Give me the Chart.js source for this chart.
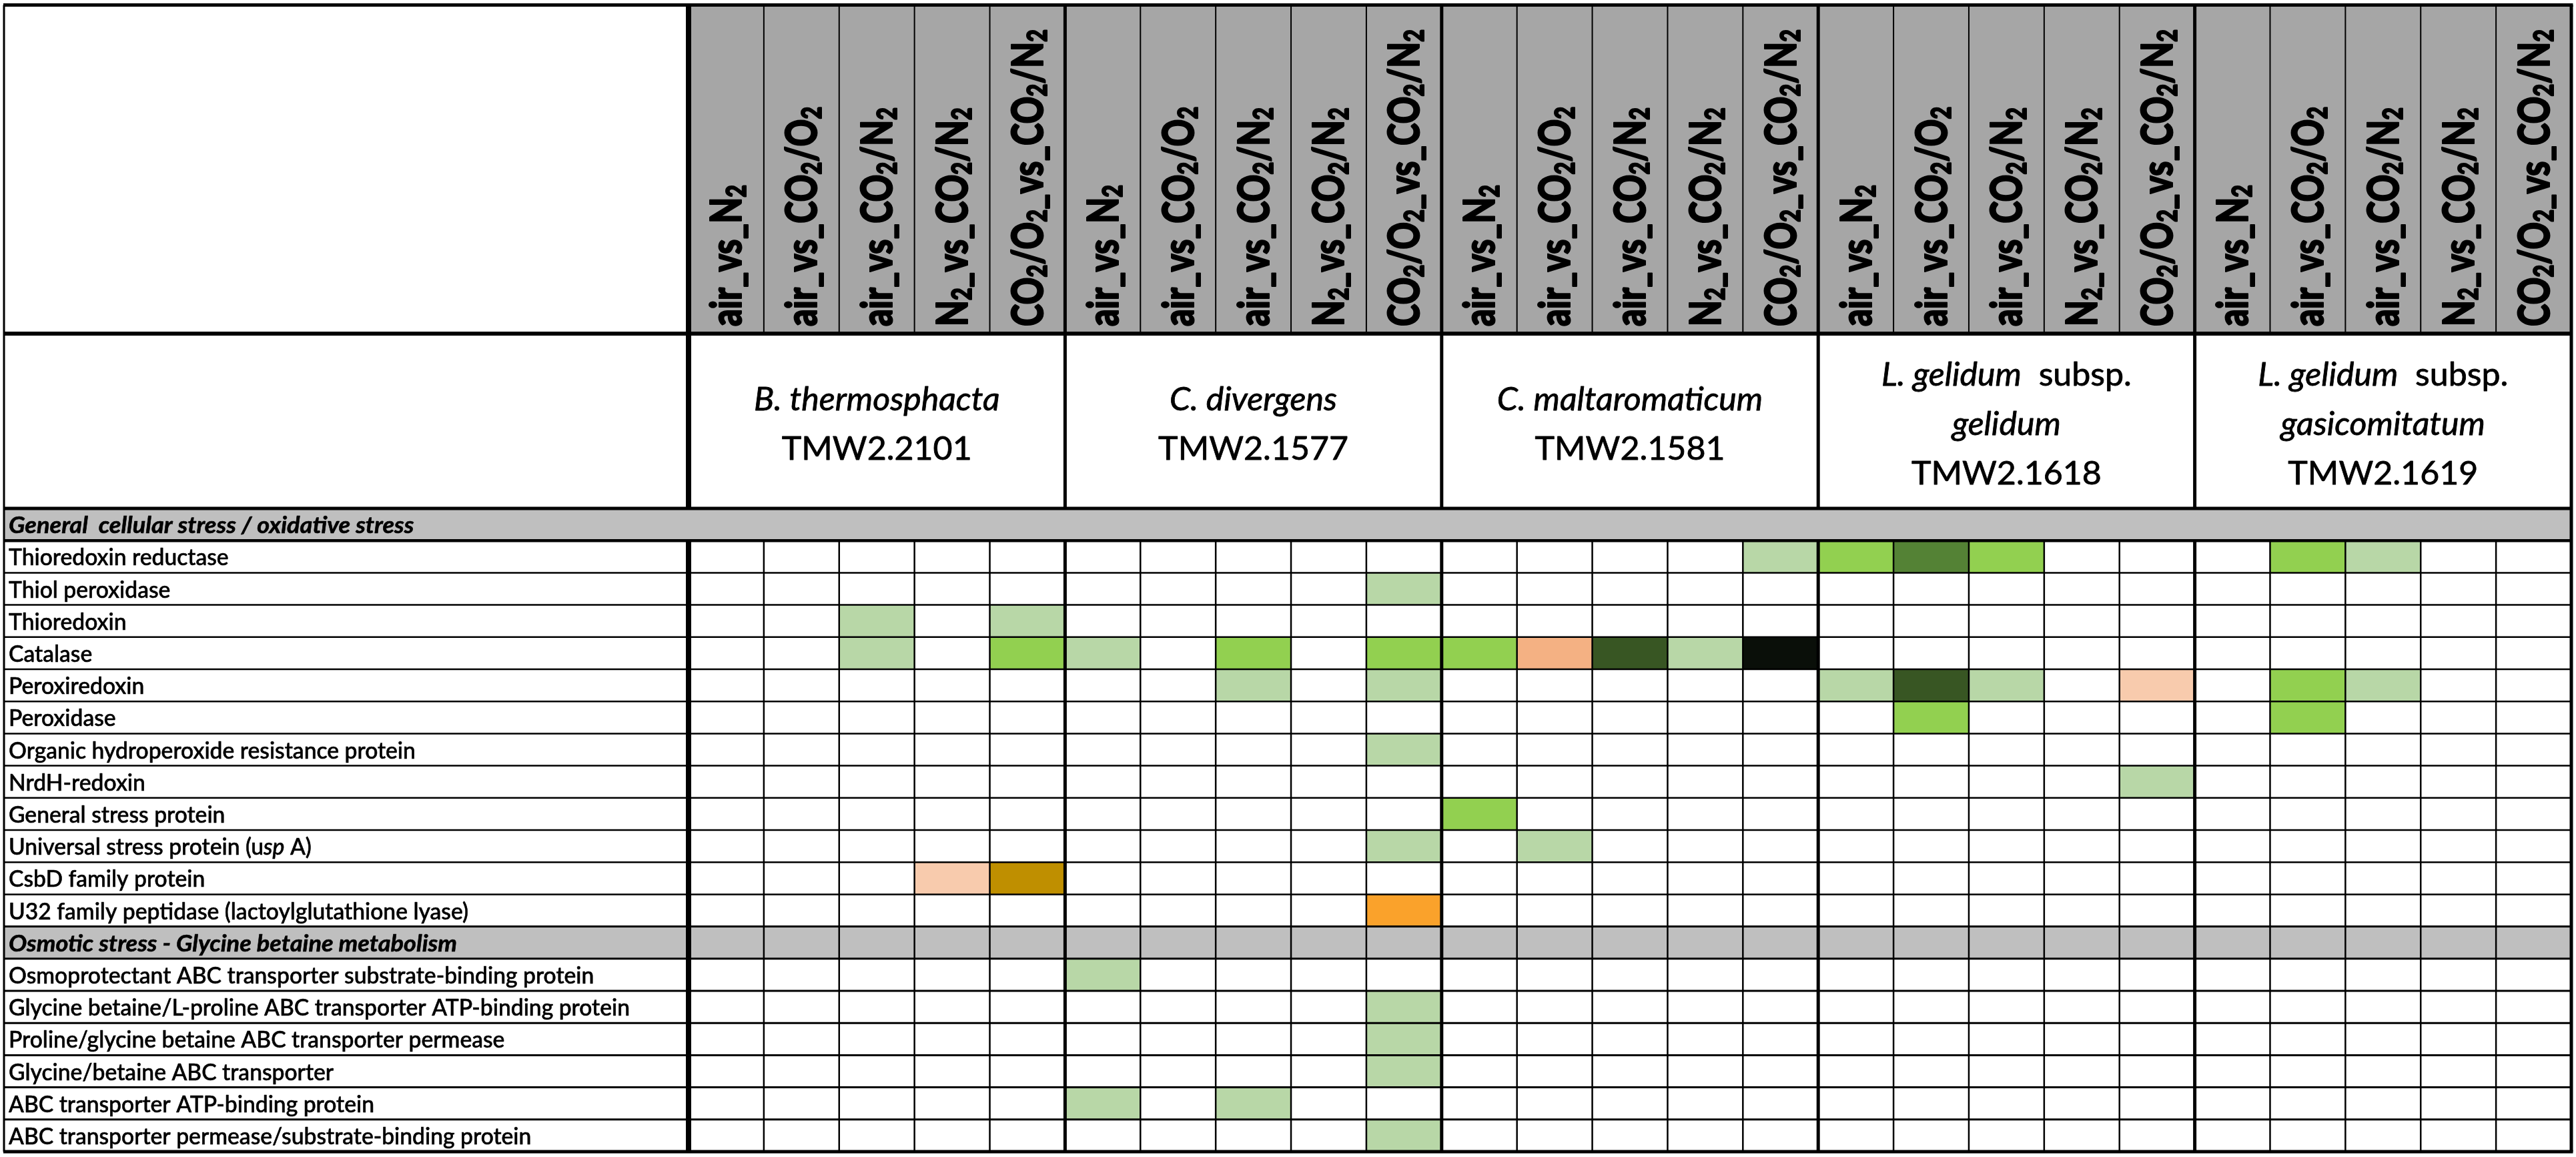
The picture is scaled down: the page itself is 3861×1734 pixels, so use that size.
<!DOCTYPE html>
<html>
<head>
<meta charset="utf-8">
<script src="https://cdn.jsdelivr.net/npm/chart.js@4.4.0/dist/chart.umd.min.js"></script>
<style>
  html, body { margin: 0; padding: 0; background: #fff; overflow: hidden; }
</style>
</head>
<body>
<canvas id="stressTable" width="3861" height="1734"></canvas>
<script>
// species (one group of 5 columns each), *...* = italic
const species = [
    ['*B. thermosphacta*', 'TMW2.2101'],
    ['*C. divergens*', 'TMW2.1577'],
    ['*C. maltaromaticum*', 'TMW2.1581'],
    ['*L. gelidum*  subsp.', '*gelidum*', 'TMW2.1618'],
    ['*L. gelidum*  subsp.', '*gasicomitatum*', 'TMW2.1619']
]
const comparisons = ['air_vs_N₂', 'air_vs_CO₂/O₂', 'air_vs_CO₂/N₂', 'N₂_vs_CO₂/N₂', 'CO₂/O₂_vs_CO₂/N₂']

const oxidativeTitle = 'General  cellular stress / oxidative stress*'
const oxidativeProteins = [
    'Thioredoxin reductase',
    'Thiol peroxidase',
    'Thioredoxin',
    'Catalase',
    'Peroxiredoxin',
    'Peroxidase',
    'Organic hydroperoxide resistance protein',
    'NrdH-redoxin',
    'General stress protein',
    'Universal stress protein (u*sp* A)',
    'CsbD family protein',
    'U32 family peptidase (lactoylglutathione lyase)'
]
// one letter per column, groups of 5 = species; '.' = not regulated
const oxidativeCells = [
    '..... ..... ....l gdg.. .gl..',
    '..... ....l ..... ..... .....',
    '..l.l ..... ..... ..... .....',
    '..l.g l.g.g gsDlk ..... .....',
    '..... ..l.l ..... lDl.p .gl..',
    '..... ..... ..... .g... .g...',
    '..... ....l ..... ..... .....',
    '..... ..... ..... ....l .....',
    '..... ..... g.... ..... .....',
    '..... ....l .l... ..... .....',
    '...pb ..... ..... ..... .....',
    '..... ....o ..... ..... .....'
]

const osmoticTitle = 'Osmotic stress - Glycine betaine metabolism*'
const osmoticProteins = [
    'Osmoprotectant ABC transporter substrate-binding protein',
    'Glycine betaine/L-proline ABC transporter ATP-binding protein',
    'Proline/glycine betaine ABC transporter permease',
    'Glycine/betaine ABC transporter',
    'ABC transporter ATP-binding protein',
    'ABC transporter permease/substrate-binding protein'
]
const osmoticCells = [
    '..... l.... ..... ..... .....',
    '..... ....l ..... ..... .....',
    '..... ....l ..... ..... .....',
    '..... ....l ..... ..... .....',
    '..... l.l.. ..... ..... .....',
    '..... ....l ..... ..... .....'
]

const palette = {
    l: '#B8D7A7', g: '#92D050', d: '#548235', D: '#385623', k: '#0A0F09',
    p: '#F8CBAD', s: '#F4B183', b: '#BF8F00', o: '#FAA22B'
}

// table rows top to bottom
const rows = [
    { title: oxidativeTitle },
    ...oxidativeProteins.map((label, i) => ({ label, cells: oxidativeCells[i].replace(/ /g, '') })),
    { title: osmoticTitle },
    ...osmoticProteins.map((label, i) => ({ label, cells: osmoticCells[i].replace(/ /g, '') }))
]

const columnKeys = []
species.forEach((sp, s) => comparisons.forEach(c => columnKeys.push(s + ' ' + c)))

const datasets = []
rows.forEach((row, r) => {
    if (!row.cells) return
    const data = []
    row.cells.split('').forEach((code, c) => {
        if (code !== '.') data.push({ x: columnKeys[c], y: [r, r + 1], code: code })
    })
    datasets.push({
        label: row.label,
        data: data,
        backgroundColor: ctx => palette[ctx.raw.code]
    })
})

// ---- text helpers ----
function runs(text) {
    const out = []
    let italic = false
    text.split('*').forEach((part, i) => {
        if (i > 0) italic = !italic
        part.split(/(₂)/).forEach(p => {
            if (p) out.push({ text: p === '₂' ? '2' : p, italic: italic, sub: p === '₂' })
        })
    })
    return out
}
function fontFor(run, size, weight, forceItalic) {
    return (run.italic || forceItalic ? 'italic ' : '') + weight + ' ' + (run.sub ? size * 0.64 : size) + 'px Lato'
}
function measureRuns(ctx, text, size, weight, forceItalic) {
    let w = 0
    runs(text).forEach(r => { ctx.font = fontFor(r, size, weight, forceItalic); w += ctx.measureText(r.text).width })
    return w
}
function drawRuns(ctx, text, x, y, size, weight, squeeze, align, forceItalic, stroke) {
    const rs = runs(text)
    ctx.textAlign = 'left'
    ctx.textBaseline = 'alphabetic'
    const widths = rs.map(r => { ctx.font = fontFor(r, size, weight, forceItalic); return ctx.measureText(r.text).width })
    const total = widths.reduce((a, b) => a + b, 0) * squeeze
    let cx = align === 'center' ? x - total / 2 : x
    rs.forEach((r, i) => {
        ctx.font = fontFor(r, size, weight, forceItalic)
        ctx.save()
        ctx.translate(cx, y + (r.sub ? size * 0.1 : 0))
        ctx.scale(squeeze, 1)
        ctx.fillText(r.text, 0, 0)
        if (stroke) {
            ctx.lineWidth = stroke
            ctx.lineJoin = 'round'
            ctx.strokeStyle = ctx.fillStyle
            ctx.strokeText(r.text, 0, 0)
        }
        ctx.restore()
        cx += widths[i] * squeeze
    })
}

const TABLE_LEFT = 6
const TABLE_TOP = 7.5
const HEADER_BOTTOM = 500

const tablePlugin = {
    id: 'tableFrame',
    beforeDatasetsDraw(chart) {
        const { ctx, chartArea: a, scales: { y } } = chart
        ctx.save()
        ctx.fillStyle = '#A6A6A6'
        ctx.fillRect(a.left, TABLE_TOP, a.right - a.left, HEADER_BOTTOM - TABLE_TOP)
        ctx.fillStyle = '#BFBFBF'
        rows.forEach((row, r) => {
            if (row.title) {
                const y0 = y.getPixelForValue(r), y1 = y.getPixelForValue(r + 1)
                ctx.fillRect(TABLE_LEFT, y0, a.right - TABLE_LEFT, y1 - y0)
            }
        })
        ctx.restore()
    },
    afterDatasetsDraw(chart) {
        const { ctx, chartArea: a, scales: { y } } = chart
        const nCols = columnKeys.length
        const colW = (a.right - a.left) / nCols
        const colX = i => a.left + i * colW
        const bottom = y.getPixelForValue(rows.length)
        const band1Top = y.getPixelForValue(0), band1Bottom = y.getPixelForValue(1)

        ctx.save()
        ctx.strokeStyle = '#000'
        const line = (x0, y0, x1, y1, w) => {
            ctx.lineWidth = w
            ctx.beginPath(); ctx.moveTo(x0, y0); ctx.lineTo(x1, y1); ctx.stroke()
        }

        // horizontal row lines
        for (let r = 2; r < rows.length; r++) {
            const yy = y.getPixelForValue(r)
            line(TABLE_LEFT, yy, a.right, yy, r >= 13 ? 3 : 2.5)
        }
        line(TABLE_LEFT, band1Top, a.right, band1Top, 5)
        line(TABLE_LEFT, band1Bottom, a.right, band1Bottom, 4.5)
        line(TABLE_LEFT, HEADER_BOTTOM, a.right, HEADER_BOTTOM, 6)

        // thin column lines (header row and body, not through the first band)
        for (let i = 1; i < nCols; i++) {
            if (i % comparisons.length === 0) continue
            line(colX(i), TABLE_TOP, colX(i), HEADER_BOTTOM, 2)
            line(colX(i), band1Bottom, colX(i), bottom, 2.5)
        }
        // group separators
        for (let g = 1; g < species.length; g++) {
            const xx = colX(g * comparisons.length)
            line(xx, TABLE_TOP, xx, band1Top, 5)
            line(xx, band1Bottom, xx, bottom, 5)
        }
        // label column separator
        line(a.left, TABLE_TOP, a.left, band1Top, 8)
        line(a.left, band1Bottom, a.left, bottom, 8)
        // outer frame
        line(TABLE_LEFT - 1, TABLE_TOP, a.right + 2.5, TABLE_TOP, 5)
        line(TABLE_LEFT - 1, bottom, a.right + 2.5, bottom, 5)
        line(TABLE_LEFT, TABLE_TOP, TABLE_LEFT, bottom, 3)
        line(a.right, TABLE_TOP, a.right, bottom, 5)

        // ---- texts ----
        ctx.fillStyle = '#000'
        const headSize = 64, rowSize = 34, speciesSize = 48
        const headSqueeze = 445 / measureRuns(ctx, comparisons[4], headSize, 900)
        const rowSqueeze = 931 / measureRuns(ctx, osmoticProteins[1], rowSize, 500)
        const titleSqueeze = 672 / measureRuns(ctx, osmoticTitle, rowSize, 700, true)
        const speciesSqueeze = 285 / measureRuns(ctx, 'TMW2.2101', speciesSize, 400)

        // rotated comparison labels
        columnKeys.forEach((key, c) => {
            const label = comparisons[c % comparisons.length]
            const cx = colX(c) + colW / 2
            ctx.save()
            ctx.translate(cx + 23, 489)
            ctx.rotate(-Math.PI / 2)
            drawRuns(ctx, label, 0, 0, headSize, 900, headSqueeze, 'left', false, 2)
            ctx.restore()
        })

        // species names
        species.forEach((lines, s) => {
            const cx = colX(s * comparisons.length) + colW * comparisons.length / 2
            lines.forEach((txt, i) => {
                const base = 652 + (i - (lines.length - 1) / 2) * 74
                drawRuns(ctx, txt, cx, base, speciesSize, 400, speciesSqueeze, 'center', false, 0.8)
            })
        })

        // row labels and section titles
        rows.forEach((row, r) => {
            const mid = (y.getPixelForValue(r) + y.getPixelForValue(r + 1)) / 2
            if (row.title) drawRuns(ctx, row.title, 13, mid + 13, rowSize, 700, titleSqueeze, 'left', true, 0.6)
            else drawRuns(ctx, row.label, 13, mid + 13, rowSize, 500, rowSqueeze, 'left', false, 0.6)
        })
        ctx.restore()
    }
}

new Chart(document.getElementById('stressTable'), {
    type: 'bar',
    data: {
        labels: columnKeys,
        datasets: datasets
    },
    options: {
        responsive: false,
        animation: false,
        devicePixelRatio: 1,
        layout: { padding: { left: 1032, top: 762, right: 7, bottom: 8 } },
        plugins: {
            legend: { display: false },
            tooltip: { enabled: false }
        },
        datasets: {
            bar: { grouped: false, barPercentage: 1, categoryPercentage: 1, borderWidth: 0 }
        },
        scales: {
            x: { type: 'category', display: false, offset: true },
            y: { type: 'linear', display: false, min: 0, max: rows.length, reverse: true }
        }
    },
    plugins: [tablePlugin]
})
</script>
</body>
</html>
